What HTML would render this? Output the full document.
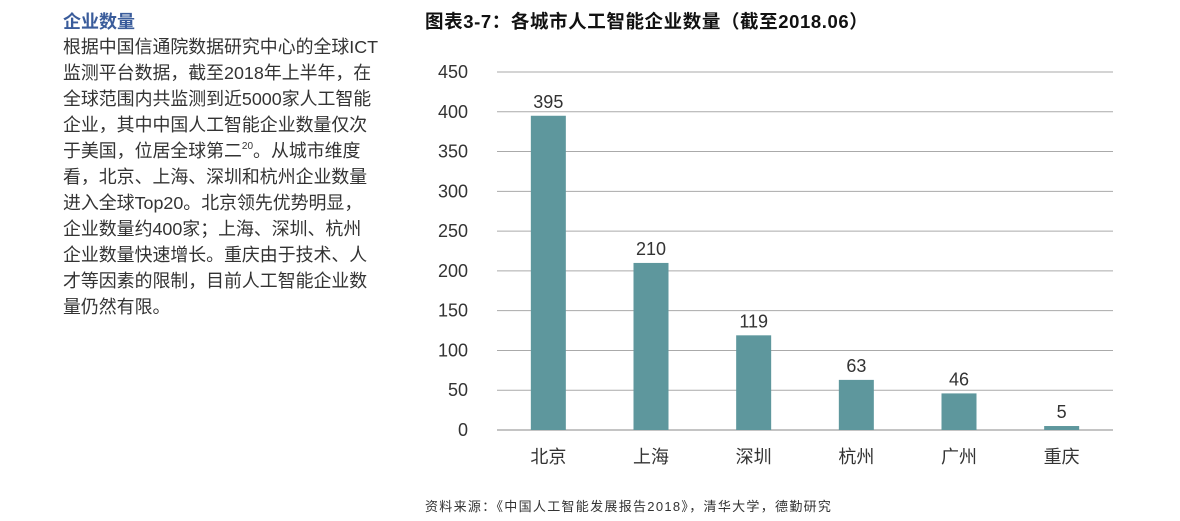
<!DOCTYPE html>
<html><head><meta charset="utf-8">
<style>
body{margin:0;width:1180px;height:521px;background:#fff;font-family:"Liberation Sans","Noto Sans CJK SC",sans-serif;position:relative;overflow:hidden}
#heading{position:absolute;left:63px;top:8px;font-size:18px;font-weight:bold;color:#3a5c9b}
#para{position:absolute;left:63px;top:34px;font-size:17.9px;line-height:26px;color:#333;white-space:nowrap}
#para sup{font-size:10px;line-height:0;vertical-align:baseline;position:relative;top:-8px}
#title{position:absolute;left:425px;top:8px;font-size:18.5px;font-weight:bold;color:#111;white-space:nowrap;letter-spacing:0.6px}
#source{position:absolute;left:425px;top:496px;font-size:13px;color:#333;white-space:nowrap;letter-spacing:1.3px}
svg{position:absolute;left:0;top:0}
</style></head><body>
<div id="heading">企业数量</div>
<div id="para">根据中国信通院数据研究中心的全球ICT<br>监测平台数据，截至2018年上半年，在<br>全球范围内共监测到近5000家人工智能<br>企业，其中中国人工智能企业数量仅次<br>于美国，位居全球第二<sup>20</sup>。从城市维度<br>看，北京、上海、深圳和杭州企业数量<br>进入全球Top20。北京领先优势明显，<br>企业数量约400家；上海、深圳、杭州<br>企业数量快速增长。重庆由于技术、人<br>才等因素的限制，目前人工智能企业数<br>量仍然有限。</div>
<div id="title">图表3-7：各城市人工智能企业数量（截至2018.06）</div>
<svg id="chart" width="1180" height="521"></svg>
<div id="source">资料来源：《中国人工智能发展报告2018》，清华大学，德勤研究</div>
<script>
const categories=["北京","上海","深圳","杭州","广州","重庆"];
const values=[395,210,119,63,46,5];
const yTicks=[0,50,100,150,200,250,300,350,400,450];
const NS="http://www.w3.org/2000/svg";
const svg=document.getElementById('chart');
const x0=497,x1=1113,yTop=72,yBot=430,yMax=450;
const y=v=>yBot-(v/yMax)*(yBot-yTop);
const band=(x1-x0)/categories.length;
const xc=i=>x0+band*(i+0.5);
function mk(t,a,txt){const e=document.createElementNS(NS,t);for(const k in a)e.setAttribute(k,a[k]);if(txt!=null)e.textContent=txt;svg.appendChild(e);return e;}
yTicks.forEach(t=>{
 const l=mk('line',{x1:x0,x2:x1,y1:y(t),y2:y(t),stroke:t===0?'#888':'#aaa','stroke-width':1});
 
 
 const tx=mk('text',{x:468,y:y(t)+6,'text-anchor':'end','font-size':18,fill:'#333','font-family':'Liberation Sans, sans-serif'},t);
 
 
});
categories.forEach((c,i)=>{
 const w=35;
 const r=mk('rect',{x:xc(i)-w/2,y:y(values[i]),width:w,height:yBot-y(values[i]),fill:'#5e979d'});
 
 
 const v=mk('text',{x:xc(i),y:y(values[i])-8,'text-anchor':'middle','font-size':18,fill:'#333','font-family':'Liberation Sans, sans-serif'},values[i]);
 
 
 const cl=mk('text',{x:xc(i),y:463,'text-anchor':'middle','font-size':18,fill:'#333','font-family':'Noto Sans CJK SC, sans-serif'},c);
 
 
});
</script>
</body></html>
